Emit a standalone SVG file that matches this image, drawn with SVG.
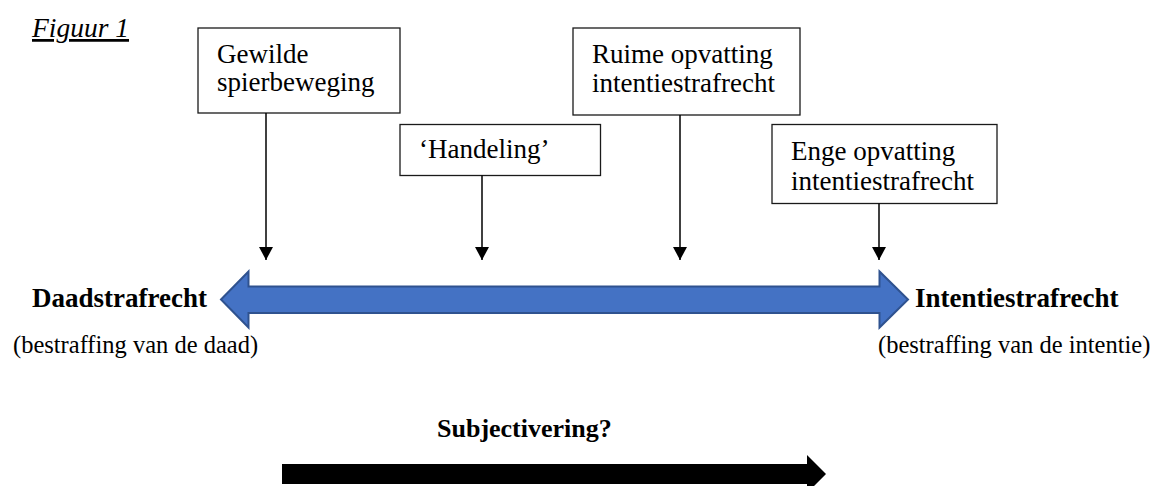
<svg xmlns="http://www.w3.org/2000/svg" width="1154" height="486" viewBox="0 0 1154 486">
<style>
text{font-family:'Liberation Serif','DejaVu Serif',serif;fill:#000}
.box{fill:#fff;stroke:#1a1a1a;stroke-width:1.3}
.lbl{font-size:27px}
.b{font-weight:bold;font-size:27px}
.sub{font-size:24.5px}
.stem{stroke:#000;stroke-width:1.5;fill:none}
</style>
<defs>
<marker id="ah" markerUnits="userSpaceOnUse" markerWidth="14" markerHeight="14" refX="13" refY="7" orient="auto">
<path d="M0,0 L13,7 L0,14 Z" fill="#000"/>
</marker>
</defs>
<rect width="1154" height="486" fill="#fff"/>
<g id="title">
<text x="32" y="37" font-size="27.5" font-style="italic" text-decoration="underline">Figuur 1</text>
</g>
<g id="node-gewilde">
<rect class="box" x="198" y="28" width="202" height="85"/>
<text class="lbl" x="217" y="63">Gewilde</text>
<text class="lbl" x="217" y="91">spierbeweging</text>
</g>
<g id="node-handeling">
<rect class="box" x="400" y="124.5" width="200.5" height="51"/>
<text class="lbl" x="419" y="158">‘Handeling’</text>
</g>
<g id="node-ruime">
<rect class="box" x="573" y="28" width="227" height="87"/>
<text class="lbl" x="592" y="63">Ruime opvatting</text>
<text class="lbl" x="592" y="92">intentiestrafrecht</text>
</g>
<g id="node-enge">
<rect class="box" x="772" y="124.5" width="225" height="79"/>
<text class="lbl" x="791" y="160">Enge opvatting</text>
<text class="lbl" x="791" y="190">intentiestrafrecht</text>
</g>
<g id="connectors">
<line class="stem" x1="266" y1="113" x2="266" y2="260" marker-end="url(#ah)"/>
<line class="stem" x1="482" y1="175.5" x2="482" y2="260" marker-end="url(#ah)"/>
<line class="stem" x1="680" y1="115" x2="680" y2="260" marker-end="url(#ah)"/>
<line class="stem" x1="879" y1="203.5" x2="879" y2="260" marker-end="url(#ah)"/>
</g>
<g id="axis">
<polygon points="221,299.5 248.5,271.5 248.5,286.5 879.5,286.5 879.5,271.5 908,299.5 879.5,327.5 879.5,313 248.5,313 248.5,327.5" fill="#4472C4" stroke="#2F528F" stroke-width="2" stroke-linejoin="miter"/>
</g>
<g id="node-daad">
<text class="b" x="32" y="307">Daadstrafrecht</text>
<text class="sub" x="13" y="353">(bestraffing van de daad)</text>
</g>
<g id="node-intentie">
<text class="b" x="915" y="307">Intentiestrafrecht</text>
<text class="sub" x="878" y="353">(bestraffing van de intentie)</text>
</g>
<g id="subjectivering">
<text x="437" y="437" font-size="26" font-weight="bold">Subjectivering?</text>
<polygon points="282,464 807,464 807,455 826,474 807,493 807,484 282,484" fill="#000"/>
</g>
</svg>
